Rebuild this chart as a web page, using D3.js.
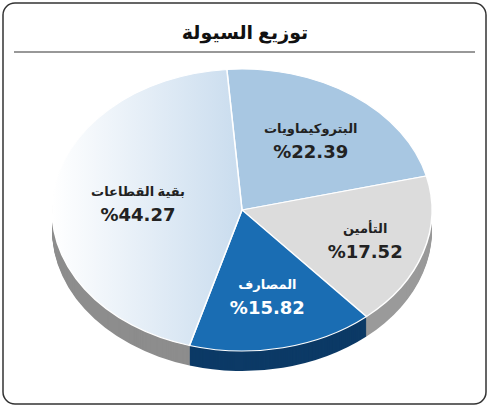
<!DOCTYPE html><html><head><meta charset="utf-8"><script src="https://cdn.jsdelivr.net/npm/d3@7"></script>
<style>body{margin:0;background:#fff}</style></head><body><script>
const categories=["البتروكيماويات","التأمين","المصارف","بقية القطاعات"];
const values=[22.39,17.52,15.82,44.27];
const labels=["%22.39","%17.52","%15.82","%44.27"];
const topColors=["#a8c7e2","#dcdcdc","#1a6db3","url(#g)"];
const sideColors=["#7f9bb3","#9a9a9a","#0c3a66","#8d8d8d"];
const W=489,H=408,cx=242,cy=210,rx=190,ry=141,depth=20;
const svg=d3.select("body").append("svg").attr("width",W).attr("height",H);
const defs=svg.append("defs");
const lg=defs.append("linearGradient").attr("id","g").attr("x1","0").attr("x2","1").attr("y1","0").attr("y2","0");
lg.append("stop").attr("offset","0").attr("stop-color","#ffffff");
lg.append("stop").attr("offset","1").attr("stop-color","#c9dcee");
svg.append("rect").attr("x",3).attr("y",3).attr("width",483).attr("height",401).attr("rx",12).attr("fill","#fff").attr("stroke","#333").attr("stroke-width",1.5);
svg.append("text").attr("x",245).attr("y",39).attr("text-anchor","middle").attr("font-family","Noto Sans, DejaVu Sans").attr("font-weight","bold").attr("font-size",19).attr("fill","#111").text("توزيع السيولة");
svg.append("line").attr("x1",14).attr("x2",475).attr("y1",52).attr("y2",52).attr("stroke","#333").attr("stroke-width",1.2);
const pieData=d3.pie().sort(null).startAngle(-0.08).endAngle(-0.08+2*Math.PI)(values);
const arc=d3.arc().innerRadius(0).outerRadius(rx);
const sy=ry/rx;
for(let k=depth;k>0;k-=1){
 const g=svg.append("g").attr("transform",`translate(${cx},${cy+k}) scale(1,${sy})`);
 g.selectAll("path").data(pieData).join("path").attr("d",arc).attr("fill",(d,i)=>sideColors[i]);
}
const topG=svg.append("g").attr("transform",`translate(${cx},${cy}) scale(1,${sy})`);
topG.selectAll("path").data(pieData).join("path").attr("d",arc).attr("fill",(d,i)=>topColors[i]).attr("stroke","#fff").attr("stroke-width",1.5);
const rf=[0.62,0.68,0.62,0.55];
pieData.forEach((d,i)=>{
 const a=(d.startAngle+d.endAngle)/2;
 const x=cx+Math.sin(a)*rx*rf[i], y=cy-Math.cos(a)*ry*rf[i];
 const col=i==2?"#fff":"#222";
 svg.append("text").attr("x",x).attr("y",y-6).attr("text-anchor","middle").attr("font-family","Noto Sans, DejaVu Sans").attr("font-weight","bold").attr("font-size",13).attr("fill",col).text(categories[i]);
 svg.append("text").attr("x",x).attr("y",y+19).attr("text-anchor","middle").attr("font-family","DejaVu Sans").attr("font-weight","bold").attr("font-size",18).attr("fill",col).text(labels[i]);
});
</script></body></html>
